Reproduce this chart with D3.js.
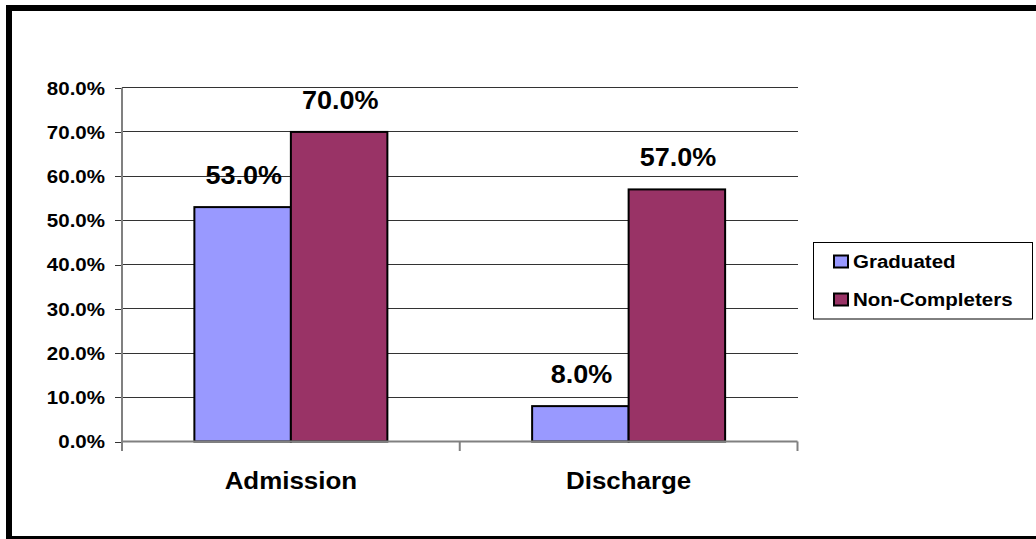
<!DOCTYPE html>
<html>
<head>
<meta charset="utf-8">
<script src="https://cdn.jsdelivr.net/npm/d3@7"></script>
<style>
  html, body { margin: 0; padding: 0; background: #fff; }
  svg { display: block; }
  text { font-family: Arial, "Liberation Sans", sans-serif; font-weight: bold; fill: #000; }
</style>
</head>
<body>
<svg id="chart" width="1036" height="539"></svg>
<script>
// Chart data
const categories = ["Admission", "Discharge"];
const seriesNames = ["Graduated", "Non-Completers"];
const graduated = [53.0, 8.0];
const nonCompleters = [70.0, 57.0];
const yTicks = [0, 10, 20, 30, 40, 50, 60, 70, 80];
const seriesColors = ["#9999FF", "#993366"];

const W = 1036, H = 539;
const svg = d3.select("#chart");
const SX = 1.08; // horizontal text stretch

const plot = { left: 122, right: 797.5, top: 87.7, bottom: 441.5 };

// outer frame
svg.append("rect")
  .attr("x", 9).attr("y", 8)
  .attr("width", 1060).attr("height", 531)
  .attr("fill", "none").attr("stroke", "#000").attr("stroke-width", 6);

const x0 = d3.scaleBand().domain(categories)
  .range([plot.left, plot.right]).paddingInner(0).paddingOuter(0);
// two bars per category with 150% gap width: category = 3.5 bar widths
const barW = x0.bandwidth() / 3.5;
const x1 = d3.scaleBand().domain(seriesNames)
  .range([0, barW * 2]).padding(0);

const y = d3.scaleLinear().domain([0, 80]).range([plot.bottom, plot.top]);

// gridlines
svg.append("g").selectAll("line").data(yTicks.slice(1)).join("line")
  .attr("x1", plot.left).attr("x2", plot.right)
  .attr("y1", d => y(d)).attr("y2", d => y(d))
  .attr("stroke", "#333").attr("stroke-width", 1)
  .attr("shape-rendering", "crispEdges");

// y axis
const yAxis = d3.axisLeft(y).tickValues(yTicks).tickSize(7).tickFormat("");
const gy = svg.append("g").attr("transform", `translate(${plot.left},0)`).call(yAxis);
gy.select(".domain").remove();
gy.selectAll(".tick line").attr("stroke", "#333").attr("shape-rendering", "crispEdges");
svg.append("line")
  .attr("x1", plot.left).attr("x2", plot.left)
  .attr("y1", plot.top).attr("y2", plot.bottom + 9.5)
  .attr("stroke", "#808080").attr("stroke-width", 2);

// y tick labels
svg.append("g").selectAll("text").data(yTicks).join("text")
  .attr("transform", d => `translate(105,${y(d) + 6.8}) scale(${SX},1)`)
  .attr("text-anchor", "end")
  .style("font-size", "19px")
  .text(d => d.toFixed(1) + "%");

// bars
const rows = categories.map((c, i) => ({ cat: c, values: [graduated[i], nonCompleters[i]] }));
const groups = svg.append("g").selectAll("g").data(rows).join("g")
  .attr("transform", d => `translate(${x0(d.cat) + barW * 0.75},0)`);

groups.selectAll("rect").data(d => d.values.map((v, j) => ({ v, s: seriesNames[j], j }))).join("rect")
  .attr("x", d => x1(d.s))
  .attr("y", d => y(d.v))
  .attr("width", x1.bandwidth())
  .attr("height", d => y(0) - y(d.v))
  .attr("fill", d => seriesColors[d.j])
  .attr("stroke", "#000").attr("stroke-width", 2);

// value labels
groups.selectAll("text").data(d => d.values.map((v, j) => ({ v, s: seriesNames[j] }))).join("text")
  .attr("transform", d => `translate(${x1(d.s) + x1.bandwidth() / 2 + 1},${y(d.v) - 23}) scale(${SX},1)`)
  .attr("text-anchor", "middle")
  .style("font-size", "25px")
  .text(d => d.v.toFixed(1) + "%");

// x axis line
svg.append("line")
  .attr("x1", plot.left).attr("x2", plot.right)
  .attr("y1", plot.bottom).attr("y2", plot.bottom)
  .attr("stroke", "#808080").attr("stroke-width", 2);
// category tick marks
const bounds = [plot.left, ...categories.map(c => x0(c) + x0.bandwidth())];
svg.append("g").selectAll("line").data(bounds).join("line")
  .attr("x1", d => d).attr("x2", d => d)
  .attr("y1", plot.bottom).attr("y2", plot.bottom + 9.5)
  .attr("stroke", "#808080").attr("stroke-width", 2);

// category labels
svg.append("g").selectAll("text").data(categories).join("text")
  .attr("transform", d => `translate(${x0(d) + x0.bandwidth() / 2},489) scale(${SX},1)`)
  .attr("text-anchor", "middle")
  .style("font-size", "24px")
  .text(d => d);

// legend
const lg = svg.append("g");
lg.append("rect")
  .attr("x", 813.5).attr("y", 242.5).attr("width", 219).attr("height", 76.5)
  .attr("fill", "#fff").attr("stroke", "#000").attr("stroke-width", 1);
const items = lg.selectAll("g").data(seriesNames).join("g")
  .attr("transform", (d, i) => `translate(0,${i * 38})`);
items.append("rect")
  .attr("x", 834).attr("y", 255.5).attr("width", 14).attr("height", 12)
  .attr("fill", (d, i) => seriesColors[i]).attr("stroke", "#000").attr("stroke-width", 2);
items.append("text")
  .attr("transform", `translate(853,267.7) scale(${SX},1)`)
  .style("font-size", "19px")
  .text(d => d);
</script>
</body>
</html>
